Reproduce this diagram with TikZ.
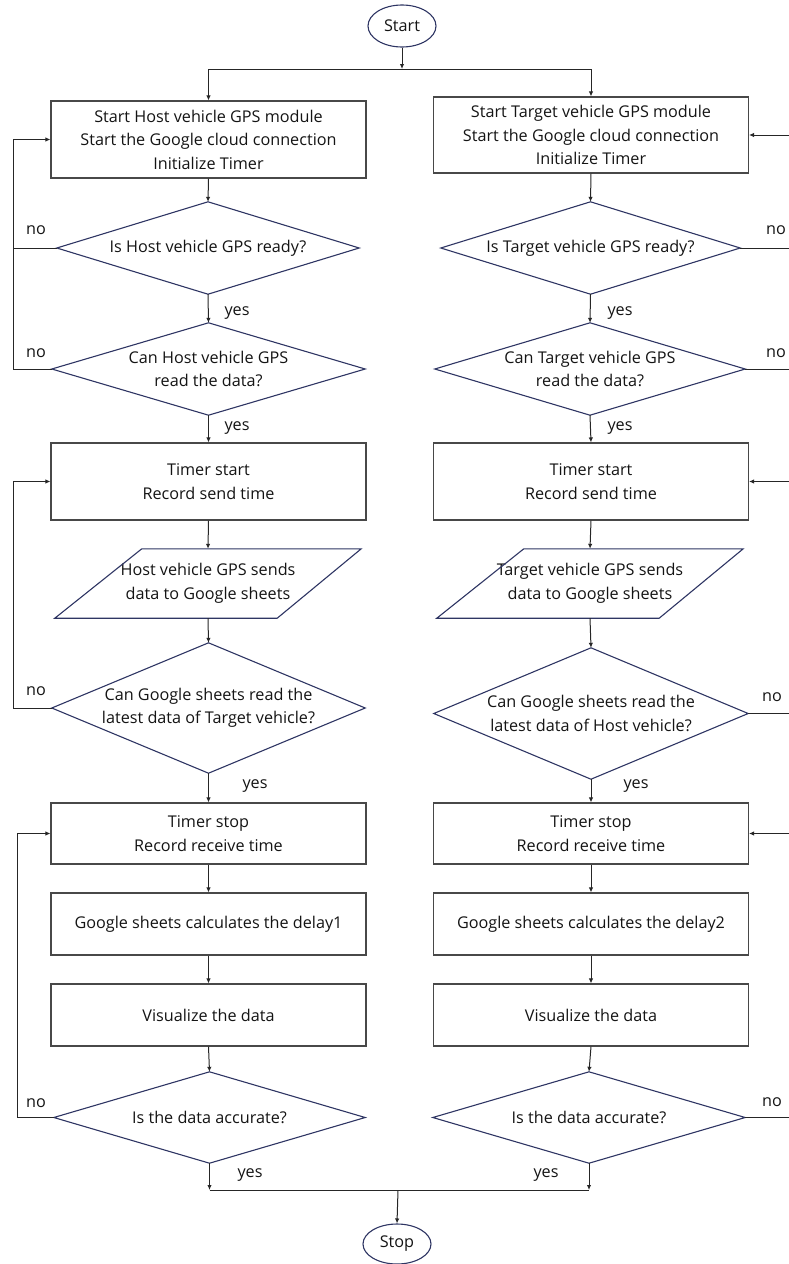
\documentclass[tikz,border=0pt]{standalone}
\usepackage{fontspec}
\setmainfont{Open Sans}
\usetikzlibrary{arrows.meta,calc,shapes.geometric}
\definecolor{navy}{HTML}{2E3563}
\definecolor{boxgray}{HTML}{484848}
\definecolor{txt}{HTML}{141414}
\begin{document}
\begin{tikzpicture}[x=1pt,y=-1pt,
  every node/.style={font=\fontsize{16.2}{23.5}\selectfont, text=txt},
  procbox/.style={draw=boxgray, line width=1.1pt, rectangle, minimum width=315pt, align=center, inner sep=0pt},
  decbox/.style={rectangle, inner sep=0pt, align=center},
  decline/.style={draw=navy, line width=1.1pt},
  term/.style={draw=navy, line width=1.1pt, ellipse, inner sep=0pt, minimum width=68pt, minimum height=42pt},
  conn/.style={draw=black!85, line width=1pt},
  arr/.style={conn, -{Latex[length=5pt,width=4.5pt]}},
  lab/.style={inner sep=0pt}
]
\useasboundingbox (0,0) rectangle (788,1264);
% terminals
\node[term] (start) at (402,26) {Start};
\node[term, minimum height=40pt] (stop) at (397,1244) {Stop};
\coordinate (split) at (402,69);
\coordinate (merge) at (398,1190);

% ---------- left column ----------
\node[procbox, minimum height=77pt] (hb1) at (208.5,139.5) {Start Host vehicle GPS module\\Start the Google cloud connection\\Initialize Timer};
\node[decbox, minimum width=302pt, minimum height=92pt] (hd1) at (208,248) {Is Host vehicle GPS ready?};
\node[decbox, minimum width=313pt, minimum height=92pt] (hd2) at (208.5,369) {Can Host vehicle GPS\\read the data?};
\node[procbox, minimum height=77pt] (hb2) at (208.5,481.5) {Timer start\\Record send time};
\node[decbox, minimum width=306pt, minimum height=69pt] (hp) at (208,583.5) {Host vehicle GPS sends\\data to Google sheets};
\node[decbox, minimum width=313pt, minimum height=130pt] (hd3) at (208.5,708) {Can Google sheets read the\\latest data of Target vehicle?};
\node[procbox, minimum height=61pt] (hb3) at (208.5,833.5) {Timer stop\\Record receive time};
\node[procbox, minimum height=62pt] (hb4) at (208.5,924) {Google sheets calculates the delay1};
\node[procbox, minimum height=62pt] (hb5) at (208.5,1015) {Visualize the data};
\node[decbox, minimum width=311pt, minimum height=91pt] (hd4) at (209.5,1117.5) {Is the data accurate?};

% ---------- right column ----------
\node[procbox, minimum height=76pt] (tb1) at (591,135) {Start Target vehicle GPS module\\Start the Google cloud connection\\Initialize Timer};
\node[decbox, minimum width=299pt, minimum height=92pt] (td1) at (590.5,248) {Is Target vehicle GPS ready?};
\node[decbox, minimum width=310pt, minimum height=92pt] (td2) at (590,369) {Can Target vehicle GPS\\read the data?};
\node[procbox, minimum height=77pt] (tb2) at (591,481.5) {Timer start\\Record send time};
\node[decbox, minimum width=306pt, minimum height=69pt] (tp) at (590,583.5) {Target vehicle GPS sends\\data to Google sheets};
\node[decbox, minimum width=314pt, minimum height=131pt] (td3) at (591,713.5) {Can Google sheets read the\\latest data of Host vehicle?};
\node[procbox, minimum height=61pt] (tb3) at (591,833.5) {Timer stop\\Record receive time};
\node[procbox, minimum height=62pt] (tb4) at (591,924) {Google sheets calculates the delay2};
\node[procbox, minimum height=62pt] (tb5) at (591,1015) {Visualize the data};
\node[decbox, minimum width=312pt, minimum height=91pt] (td4) at (589,1117.5) {Is the data accurate?};

% diamond outlines
\foreach \d in {hd1,hd2,hd3,hd4,td1,td2,td3,td4}{
  \draw[decline] (\d.west) -- (\d.north) -- (\d.east) -- (\d.south) -- cycle;
}
% parallelogram outlines
\foreach \p in {hp,tp}{
  \draw[decline] (\p.south west) -- ([xshift=87pt]\p.north west) -- (\p.north east) -- ([xshift=-84pt]\p.south east) -- cycle;
}

% ---------- connectors ----------
\draw[arr] (start.south) -- (split);
\draw[conn] (split -| hb1) -- (split -| tb1);
\draw[arr] (split -| hb1) -- (hb1.north);
\draw[arr] (split -| tb1) -- (tb1.north);

% left main flow
\draw[arr] (hb1.south) -- (hd1.north);
\draw[arr] (hd1.south) -- (hd2.north);
\draw[arr] (hd2.south) -- (hb2.north);
\draw[arr] (hb2.south) -- (hp.north);
\draw[arr] (hp.south) -- (hd3.north);
\draw[arr] (hd3.south) -- (hb3.north);
\draw[arr] (hb3.south) -- (hb4.north);
\draw[arr] (hb4.south) -- (hb5.north);
\draw[arr] (hb5.south) -- (hd4.north);

% right main flow
\draw[arr] (tb1.south) -- (td1.north);
\draw[arr] (td1.south) -- (td2.north);
\draw[arr] (td2.south) -- (tb2.north);
\draw[arr] (tb2.south) -- (tp.north);
\draw[arr] (tp.south) -- (td3.north);
\draw[arr] (td3.south) -- (tb3.north);
\draw[arr] (tb3.south) -- (tb4.north);
\draw[arr] (tb4.south) -- (tb5.north);
\draw[arr] (tb5.south) -- (td4.north);

% merge to stop
\draw[arr] (hd4.south) -- (merge -| hd4.south);
\draw[arr] (td4.south) -- (merge -| td4.south);
\draw[conn] (merge -| hd4.south) -- (merge -| td4.south);
\draw[arr] (merge) -- (stop.north);

% left loops
\draw[arr] (hd1.west) -- (13,248) -- (13,139.5) -- (hb1.west);
\draw[conn] (hd2.west) -- (13,369) -- (13,248);
\draw[arr] (hd3.west) -- (13,708) -- (13,481.5) -- (hb2.west);
\draw[arr] (hd4.west) -- (17,1117.5) -- (17,833.5) -- (hb3.west);

% right loops (vertical part lies outside the picture)
\draw[arr] (td1.east) -- (800,248) -- (800,135) -- (tb1.east);
\draw[conn] (td2.east) -- (800,369) -- (800,248);
\draw[arr] (td3.east) -- (800,713.5) -- (800,481.5) -- (tb2.east);
\draw[arr] (td4.east) -- (800,1117.5) -- (800,833.5) -- (tb3.east);

% labels
\node[lab] (n1) at (36,230) {no};
\node[lab] (n2) at (36,353) {no};
\node[lab] (n3) at (36,691) {no};
\node[lab] (n4) at (36,1103) {no};
\node[lab] (n5) at (776,230) {no};
\node[lab] (n6) at (776,353) {no};
\node[lab] (n7) at (772,697) {no};
\node[lab] (n8) at (772,1102) {no};
\node[lab] (y1) at (237,313) {yes};
\node[lab] (y2) at (237,428) {yes};
\node[lab] (y3) at (255,786) {yes};
\node[lab] (y4) at (250,1175) {yes};
\node[lab] (y5) at (620,313) {yes};
\node[lab] (y6) at (620,428) {yes};
\node[lab] (y7) at (636,786) {yes};
\node[lab] (y8) at (546,1175) {yes};
\end{tikzpicture}
\end{document}
